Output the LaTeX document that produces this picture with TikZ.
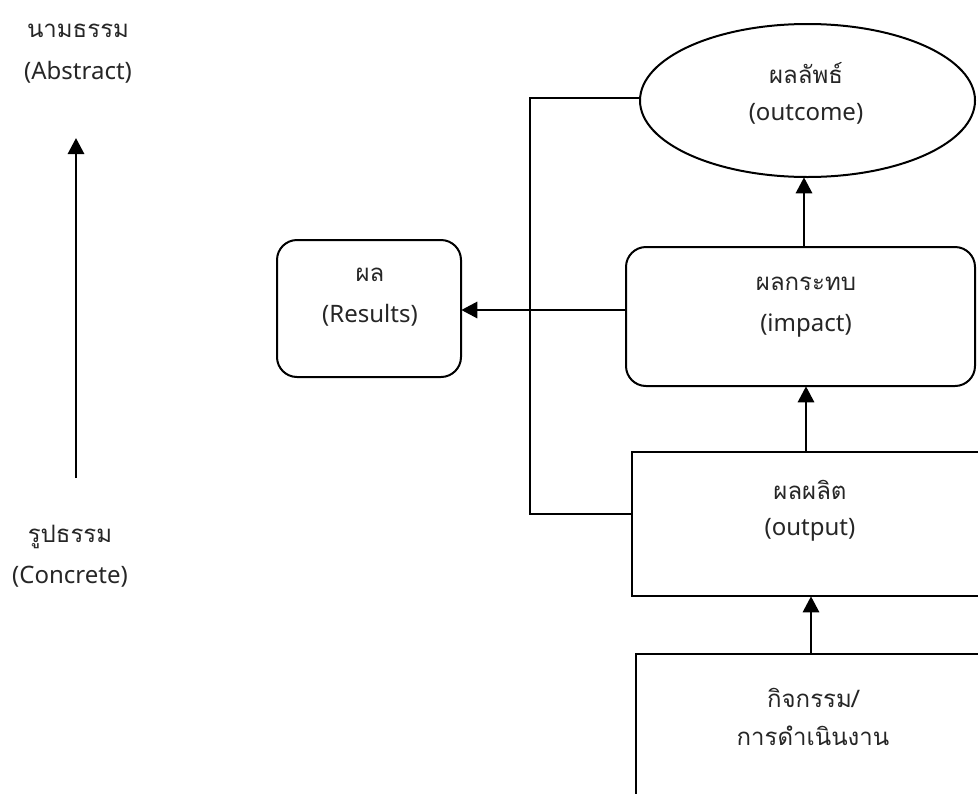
\documentclass[tikz,border=0pt]{standalone}
\usepackage{fontspec}
\setmainfont{Noto Sans}
\newfontfamily\thaifont[Script=Thai]{Loma}
\usetikzlibrary{arrows.meta}
\tikzset{
  lbl/.style={font=\fontsize{18}{21}\selectfont, text=black!85, inner sep=0pt},
  th/.style={font=\thaifont\fontsize{18}{21}\selectfont, text=black!85, inner sep=0pt},
  boxline/.style={draw=black, line width=1.5pt},
  rbox/.style={boxline, rounded corners=15pt},
  sbox/.style={boxline},
  conn/.style={draw=black, line width=1.5pt},
  arr/.style={draw=black, line width=2.2pt, -{Triangle[length=12pt,width=12pt]}},
}
\begin{document}
\begin{tikzpicture}[x=0.75pt,y=-0.75pt]
\clip (0,0) rectangle (978,793);
\useasboundingbox (0,0) rectangle (978,793);
% shapes
\draw[boxline] (807.5,100.5) ellipse [x radius=167.5, y radius=76.5];
\node[inner sep=0pt, minimum width=335*0.75pt, minimum height=153*0.75pt] (outcome) at (807.5,100.5) {};
\draw[rbox] (277,240) rectangle (461,377);
\node[inner sep=0pt, minimum width=184*0.75pt, minimum height=137*0.75pt] (results) at (369,308.5) {};
\draw[rbox] (626,247) rectangle (975,386);
\node[inner sep=0pt, minimum width=349*0.75pt, minimum height=139*0.75pt] (impact) at (800.5,316.5) {};
\draw[sbox] (632,596) -- (632,452) -- (995,452) -- (995,596) -- cycle;
\node[inner sep=0pt, minimum width=363*0.75pt, minimum height=144*0.75pt] (output) at (813.5,524) {};
\draw[sbox] (636,815) -- (636,654) -- (995,654);
\node[inner sep=0pt, minimum width=359*0.75pt, minimum height=161*0.75pt] (activity) at (815.5,734.5) {};
% texts
\node[th] (t1) at (78,31) {นามธรรม};
\node[lbl] (t2) at (78,72) {(Abstract)};
\node[th] (t3) at (70,537) {รูปธรรม};
\node[lbl] (t4) at (70,577) {(Concrete)};
\node[th] (t5) at (806,73) {ผลลัพธ์};
\node[lbl] (t6) at (806,114) {(outcome)};
\node[th] (t7) at (370,275) {ผล};
\node[lbl] (t8) at (370,315) {(Results)};
\node[th] (t9) at (806,284) {ผลกระทบ};
\node[lbl] (t10) at (806,326) {(impact)};
\node[th] (t11) at (810,490) {ผลผลิต};
\node[lbl] (t12) at (810,530) {(output)};
\node[th] (t13) at (813,698) {กิจกรรม/};
\node[th] (t14) at (813,736) {การดำเนินงาน};
% connectors
\coordinate (lb) at (76,478);
\coordinate (lt) at (76,138);
\draw[arr] (lb) -- (lt);
\coordinate (c1) at (530,98);
\coordinate (c2) at (530,514);
\draw[conn] (outcome.west |- c1) -- (c1) -- (c2) -- (output.west |- c2);
\draw[arr] (impact.west |- 0,310) -- (results.east |- 0,310);
\draw[arr] (impact.north -| 804,0) -- (outcome.south -| 804,0);
\draw[arr] (output.north -| 806,0) -- (impact.south -| 806,0);
\draw[arr] (activity.north -| 811,0) -- (output.south -| 811,0);
\end{tikzpicture}
\end{document}
